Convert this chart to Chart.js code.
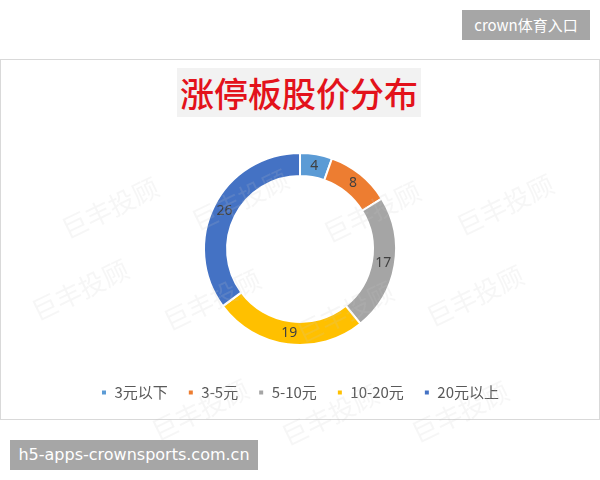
<!DOCTYPE html>
<html>
<head>
<meta charset="utf-8">
<script src="https://cdn.jsdelivr.net/npm/chart.js@4.4.1/dist/chart.umd.min.js"></script>
<style>
  html, body { margin:0; padding:0; background:#fff; }
  #page { position:relative; width:600px; height:480px; overflow:hidden; font-family:'Noto Sans CJK SC','Noto Sans',sans-serif; }
  #frame { position:absolute; left:0; top:59px; width:598px; height:359px; border:1px solid #d9d9d9; }
  #title { position:absolute; left:177px; top:68px; width:244px; height:49px; background:#f2f2f2;
           color:#e3121b; font-size:34px; font-weight:500; line-height:49px; text-align:center; }
  #tag1 { position:absolute; left:462px; top:10px; width:128px; height:30px; background:#a6a6a6; color:#fff;
          font-size:15px; line-height:30px; text-align:center; font-family:'Noto Sans CJK SC',sans-serif; }
  #tag2 { position:absolute; left:10px; top:440px; width:248px; height:30px; background:#a6a6a6; color:#fff;
          font-size:16px; line-height:30px; text-align:center; font-family:'DejaVu Sans','Noto Sans',sans-serif; }
  #c { position:absolute; left:0; top:0; }
</style>
</head>
<body>
<div id="page">
  <div id="tag1">crown体育入口</div>
  <div id="frame"></div>
  <div id="title">涨停板股价分布</div>
  <canvas id="c" width="600" height="480"></canvas>
  <div id="tag2">h5-apps-crownsports.com.cn</div>
</div>
<script>
const categories = ['3元以下', '3-5元', '5-10元', '10-20元', '20元以上'];
const counts = [4, 8, 17, 19, 26];
const sliceColors = ['#5b9bd5', '#ed7d31', '#a5a5a5', '#ffc000', '#4472c4'];
const watermarkText = '巨丰投顾';

const valueLabels = {
  id: 'valueLabels',
  afterDatasetsDraw(chart) {
    const ctx = chart.ctx;
    const meta = chart.getDatasetMeta(0);
    ctx.save();
    ctx.font = '14px "Noto Sans", "Liberation Sans", sans-serif';
    ctx.fillStyle = '#404040';
    ctx.textAlign = 'center';
    ctx.textBaseline = 'middle';
    meta.data.forEach((arc, i) => {
      const p = arc.tooltipPosition();
      ctx.fillText(String(chart.data.datasets[0].data[i]), p.x, p.y);
    });
    ctx.restore();
  }
};

const watermarks = {
  id: 'watermarks',
  afterDraw(chart) {
    const ctx = chart.ctx;
    const spots = [[110,208],[240,200],[372,212],[505,205],[80,290],[212,300],[345,312],[475,296],[200,410],[330,415],[460,412]];
    ctx.save();
    ctx.font = '26px "Noto Sans CJK SC", sans-serif';
    ctx.fillStyle = 'rgba(200,200,200,0.16)';
    ctx.textAlign = 'center';
    ctx.textBaseline = 'middle';
    spots.forEach(([x, y]) => {
      ctx.save();
      ctx.translate(x, y);
      ctx.rotate(-0.45);
      ctx.fillText(watermarkText, 0, 0);
      ctx.restore();
    });
    ctx.restore();
  }
};

new Chart(document.getElementById('c'), {
  type: 'doughnut',
  data: {
    labels: categories,
    datasets: [{
      data: counts,
      backgroundColor: sliceColors,
      borderColor: '#ffffff',
      borderWidth: 2,
      radius: 96,
      cutout: '76%'
    }]
  },
  options: {
    responsive: false,
    animation: false,
    devicePixelRatio: 1,
    layout: { padding: { top: 133, bottom: 70, left: 0, right: 0 } },
    plugins: {
      legend: {
        position: 'bottom',
        labels: {
          boxWidth: 6,
          boxHeight: 6,
          padding: 20,
          color: '#595959',
          font: { size: 15, family: '"Noto Sans CJK SC", sans-serif' }
        }
      },
      tooltip: { enabled: false }
    }
  },
  plugins: [valueLabels, watermarks]
});
</script>
</body>
</html>
